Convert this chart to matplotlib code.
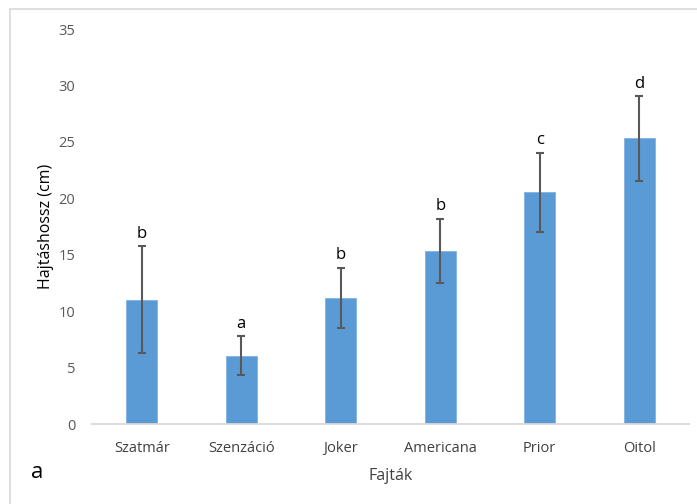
import matplotlib
matplotlib.use("Agg")
import matplotlib.pyplot as plt
from matplotlib.patches import Rectangle

plt.rcParams['font.family'] = ['Open Sans', 'DejaVu Sans']

# Shoot length by cultivar (mean ± error) with significance letters
cultivars = ["Szatmár", "Szenzáció", "Joker", "Americana", "Prior", "Oitol"]
means = [11.0, 6.05, 11.2, 15.35, 20.55, 25.3]
errors = [4.75, 1.75, 2.65, 2.85, 3.5, 3.75]
letters = ["b", "a", "b", "b", "c", "d"]

W, H, DPI = 697, 504, 100
fig = plt.figure(figsize=(W / DPI, H / DPI), dpi=DPI)
fig.patch.set_facecolor("white")

# light chart-area frame
fig.patches.append(Rectangle((10 / W, -0.1), 1.2, 1 - 9 / H + 0.1,
                             transform=fig.transFigure, fill=False,
                             edgecolor="#D9D9D9", linewidth=1.2))

ax = fig.add_axes([92 / W, 1 - 424 / H, (689 - 92) / W, (424 - 29) / H])

x = range(len(cultivars))
ax.bar(x, means, width=0.31, color="#5B9BD5", edgecolor="#7FB2E0",
       linewidth=0.6, zorder=2)
ax.errorbar(x, means, yerr=errors, fmt="none", ecolor="#595959",
            elinewidth=1.5, capsize=3, capthick=1.5, zorder=3)

for xi, m, e, lab in zip(x, means, errors, letters):
    ax.annotate(lab, (xi, m + e), xytext=(0, 6), textcoords="offset points",
                ha="center", va="baseline", fontsize=12, color="black")

ax.set_xlim(-0.5, len(cultivars) - 0.5)
ax.set_ylim(0, 35)
ax.set_yticks(range(0, 36, 5))
ax.set_xticks(list(x))
ax.set_xticklabels(cultivars)

for s in ["top", "right", "left"]:
    ax.spines[s].set_visible(False)
ax.spines["bottom"].set_color("#D9D9D9")
ax.spines["bottom"].set_linewidth(1.3)
ax.tick_params(axis="both", length=0, labelsize=10.5, labelcolor="#595959")
ax.tick_params(axis="y", pad=12)
ax.tick_params(axis="x", pad=12, labelcolor="#404040")

ax.set_xlabel("Fajták", fontsize=11.5, color="#404040", labelpad=9)
ax.set_ylabel("Hajtáshossz (cm)", fontsize=11.5, color="black", labelpad=3)

fig.text(37 / W, 1 - 472 / H, "a", fontsize=16, ha="center", va="center",
         color="black")

fig.savefig("out.png", dpi=DPI)
